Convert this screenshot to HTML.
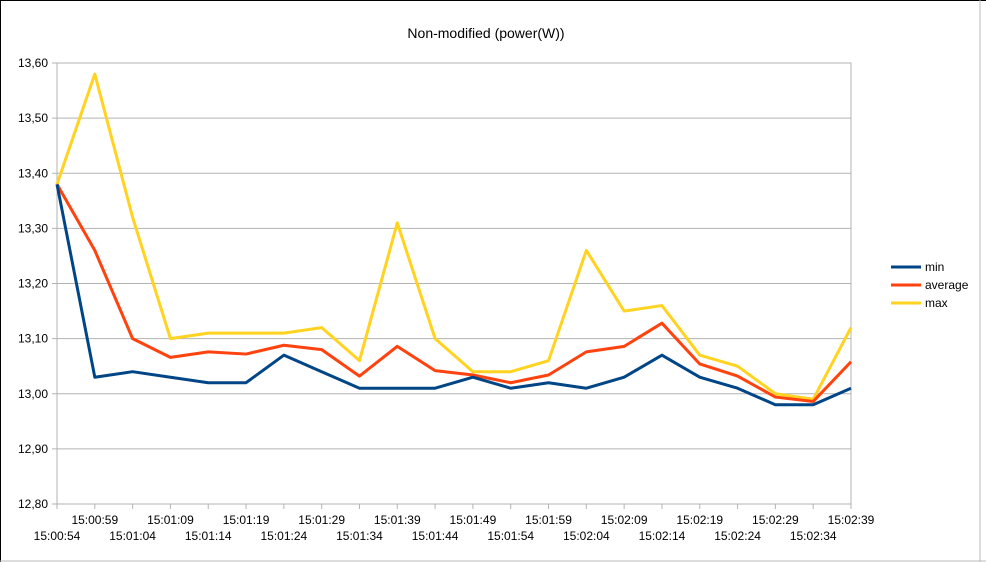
<!DOCTYPE html>
<html><head><meta charset="utf-8"><style>
body{margin:0;background:#fff;}
svg{display:block;font-family:"Liberation Sans",sans-serif;}
</style></head><body>
<svg id="chart" width="986" height="562">
<rect x="0" y="0" width="986" height="562" fill="#fff"/>
<line x1="0" y1="0.5" x2="986" y2="0.5" stroke="#000"/>
<line x1="0.5" y1="0" x2="0.5" y2="562" stroke="#000"/>
<line x1="0" y1="561" x2="986" y2="561" stroke="#bbb"/>
<line x1="980" y1="0" x2="980" y2="562" stroke="#bbb"/>
<text x="486" y="38" font-size="14" text-anchor="middle" fill="#000">Non-modified (power(W))</text>
<g id="grid"></g><g id="axes"></g><g id="series"></g>
<g>
<line x1="891" y1="267" x2="921" y2="267" stroke="#004586" stroke-width="3"/>
<text x="925" y="271" font-size="12">min</text>
<line x1="891" y1="285" x2="921" y2="285" stroke="#ff420e" stroke-width="3"/>
<text x="925" y="289" font-size="12">average</text>
<line x1="891" y1="303" x2="921" y2="303" stroke="#ffd320" stroke-width="3"/>
<text x="925" y="307" font-size="12">max</text>
</g>
</svg>
<script>
const categories=["15:00:54","15:00:59","15:01:04","15:01:09","15:01:14","15:01:19","15:01:24","15:01:29","15:01:34","15:01:39","15:01:44","15:01:49","15:01:54","15:01:59","15:02:04","15:02:09","15:02:14","15:02:19","15:02:24","15:02:29","15:02:34","15:02:39"];
const minValues=[13.38,13.03,13.04,13.03,13.02,13.02,13.07,13.04,13.01,13.01,13.01,13.03,13.01,13.02,13.01,13.03,13.07,13.03,13.01,12.98,12.98,13.01];
const avgValues=[13.38,13.26,13.10,13.066,13.076,13.072,13.088,13.08,13.032,13.086,13.042,13.034,13.02,13.034,13.076,13.086,13.128,13.054,13.032,12.994,12.986,13.058];
const maxValues=[13.38,13.58,13.32,13.10,13.11,13.11,13.11,13.12,13.06,13.31,13.10,13.04,13.04,13.06,13.26,13.15,13.16,13.07,13.05,13.00,12.99,13.12];
const yTicks=[12.8,12.9,13.0,13.1,13.2,13.3,13.4,13.5,13.6];
const NS="http://www.w3.org/2000/svg";
const L=57,R=851,T=63,B=504,ymin=12.8,ymax=13.6;
const xs=i=>L+(R-L)*i/(categories.length-1);
const ys=v=>B-(v-ymin)/(ymax-ymin)*(B-T);
function mk(tag,attrs,parent,text){const e=document.createElementNS(NS,tag);for(const k in attrs)e.setAttribute(k,attrs[k]);if(text!==undefined)e.textContent=text;document.getElementById(parent).appendChild(e);return e;}
yTicks.forEach(v=>{
 const g=mk('line',{x1:L-5,x2:R,y1:ys(v),y2:ys(v),stroke:'#b3b3b3'},'grid');
 
 
 const t=mk('text',{x:L-9,y:ys(v)+4,'font-size':12,'text-anchor':'end'},'axes',v.toFixed(2).replace('.',','));
 
 
});
const fr=mk('rect',{x:L,y:T,width:R-L,height:B-T,fill:'none',stroke:'#b3b3b3'},'grid');


categories.forEach((c,i)=>{
 const tk=mk('line',{x1:xs(i),x2:xs(i),y1:B,y2:B+5,stroke:'#b3b3b3'},'axes');
 
 
 const t=mk('text',{x:xs(i),y:i%2?524:540,'font-size':12,'text-anchor':'middle'},'axes',c);
 
 
});
[[maxValues,'#ffd320','max-line'],[avgValues,'#ff420e','average-line'],[minValues,'#004586','min-line']].forEach(([vals,col,name])=>{
 const p=mk('polyline',{points:vals.map((v,i)=>xs(i)+','+ys(v)).join(' '),fill:'none',stroke:col,'stroke-width':3,'stroke-linejoin':'round'},'series');
 
 
});
</script>
</body></html>
